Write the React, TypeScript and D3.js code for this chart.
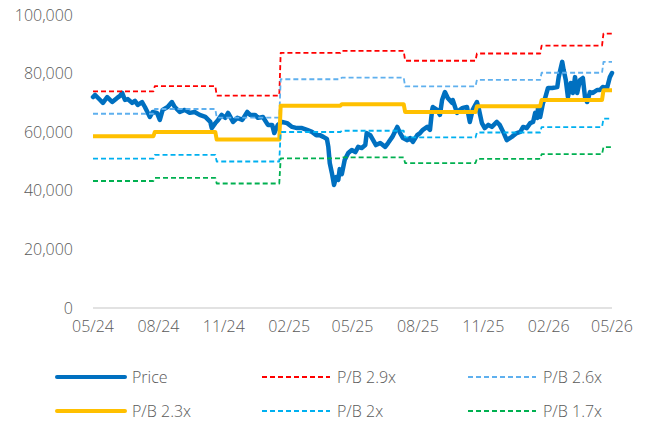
import React from "react";
import * as d3 from "d3";

// Share price (date, value)
const priceData: [string, number][] = [
  ["2024-05-01", 72000], ["2024-05-04", 72700], ["2024-05-11", 71000], ["2024-05-15", 70000],
  ["2024-05-21", 72000], ["2024-05-28", 70300], ["2024-06-04", 71700], ["2024-06-08", 72400],
  ["2024-06-11", 73400], ["2024-06-15", 71000], ["2024-06-19", 71300], ["2024-06-25", 70000],
  ["2024-06-29", 70700], ["2024-07-03", 69300], ["2024-07-09", 70300], ["2024-07-13", 68600],
  ["2024-07-20", 65200], ["2024-07-24", 66900], ["2024-07-30", 66600], ["2024-08-03", 64200],
  ["2024-08-07", 67600], ["2024-08-14", 68600], ["2024-08-20", 70300], ["2024-08-24", 68600],
  ["2024-08-31", 66900], ["2024-09-07", 67600], ["2024-09-14", 66600], ["2024-09-21", 66900],
  ["2024-09-28", 65900], ["2024-10-06", 65200], ["2024-10-13", 63500], ["2024-10-15", 61400],
  ["2024-10-20", 63100], ["2024-10-24", 64200], ["2024-10-29", 65900], ["2024-11-03", 64900],
  ["2024-11-07", 66600], ["2024-11-14", 63500], ["2024-11-20", 64900], ["2024-11-27", 64200],
  ["2024-12-04", 66900], ["2024-12-08", 65900], ["2024-12-15", 65900], ["2024-12-19", 64900],
  ["2024-12-26", 65200], ["2025-01-02", 62500], ["2025-01-08", 62500], ["2025-01-11", 59700],
  ["2025-01-16", 62500], ["2025-01-22", 63500], ["2025-01-29", 63100], ["2025-02-05", 61800],
  ["2025-02-12", 61400], ["2025-02-19", 61400], ["2025-02-26", 60800], ["2025-03-05", 60100],
  ["2025-03-11", 59000], ["2025-03-16", 59000], ["2025-03-21", 58400], ["2025-03-26", 57700],
  ["2025-03-28", 55000], ["2025-03-30", 49500], ["2025-04-02", 46100], ["2025-04-05", 42000],
  ["2025-04-08", 44700], ["2025-04-11", 43700], ["2025-04-13", 47400], ["2025-04-16", 45700],
  ["2025-04-20", 50500], ["2025-04-25", 52900], ["2025-04-30", 53900], ["2025-05-05", 53200],
  ["2025-05-09", 55000], ["2025-05-14", 54600], ["2025-05-19", 55600], ["2025-05-21", 59700],
  ["2025-05-26", 59000], ["2025-05-30", 57300], ["2025-06-03", 55600], ["2025-06-09", 56300],
  ["2025-06-16", 55000], ["2025-06-20", 56300], ["2025-06-26", 58400], ["2025-07-03", 61800],
  ["2025-07-07", 59700], ["2025-07-11", 58000], ["2025-07-17", 57300], ["2025-07-21", 58000],
  ["2025-07-25", 56700], ["2025-07-31", 59000], ["2025-08-04", 59700], ["2025-08-08", 60800],
  ["2025-08-14", 61800], ["2025-08-18", 60800], ["2025-08-21", 67600], ["2025-08-22", 68600],
  ["2025-08-28", 67600], ["2025-09-01", 65900], ["2025-09-04", 71000], ["2025-09-08", 73700],
  ["2025-09-12", 71700], ["2025-09-18", 70000], ["2025-09-19", 71000], ["2025-09-25", 66600],
  ["2025-09-29", 67600], ["2025-10-03", 68300], ["2025-10-09", 68600], ["2025-10-13", 63500],
  ["2025-10-17", 67600], ["2025-10-23", 70300], ["2025-10-26", 67600], ["2025-10-30", 63100],
  ["2025-11-03", 61400], ["2025-11-08", 62500], ["2025-11-13", 61800], ["2025-11-20", 63500],
  ["2025-11-24", 62500], ["2025-11-29", 60100], ["2025-12-04", 57300], ["2025-12-11", 58400],
  ["2025-12-18", 59700], ["2025-12-23", 60100], ["2025-12-27", 61800], ["2026-01-01", 61400],
  ["2026-01-06", 63100], ["2026-01-10", 63500], ["2026-01-13", 66600], ["2026-01-16", 64900],
  ["2026-01-17", 68600], ["2026-01-20", 65200], ["2026-01-24", 70000], ["2026-01-27", 71700],
  ["2026-01-31", 75100], ["2026-02-06", 75100], ["2026-02-13", 75400], ["2026-02-15", 78800],
  ["2026-02-20", 84000], ["2026-02-22", 81200], ["2026-02-25", 77800], ["2026-02-28", 72000],
  ["2026-03-04", 76800], ["2026-03-07", 73400], ["2026-03-10", 78800], ["2026-03-13", 73400],
  ["2026-03-17", 77800], ["2026-03-21", 78500], ["2026-03-24", 72000], ["2026-03-27", 70300],
  ["2026-03-31", 73700], ["2026-04-04", 73400], ["2026-04-10", 74400], ["2026-04-14", 74400],
  ["2026-04-18", 75400], ["2026-04-24", 75100], ["2026-04-28", 78800], ["2026-05-01", 80200],
];

// Book value per share, stepped (start date, value)
const bvpsSteps: [string, number][] = [
  ["2024-05-01", 25500],
  ["2024-07-27", 26120],
  ["2024-10-22", 25000],
  ["2025-01-20", 30030],
  ["2025-04-16", 30250],
  ["2025-07-14", 29100],
  ["2025-10-23", 29950],
  ["2026-01-22", 30880],
  ["2026-04-19", 32300],
];
const lastDate = "2026-05-01";

const bandNames = ["P/B 2.9x", "P/B 2.6x", "P/B 2.3x", "P/B 2x", "P/B 1.7x"];
const bandMultiples = [2.9, 2.6, 2.3, 2.0, 1.7];
const bandColors = ["#ff0000", "#5fb0ee", "#ffc000", "#00b0f0", "#00b050"];
const bandSolid = [false, false, true, false, false];

const xTickDates = [
  "2024-05-01", "2024-08-01", "2024-11-01", "2025-02-01", "2025-05-01",
  "2025-08-01", "2025-11-01", "2026-02-01", "2026-05-01",
];
const yTickValues = [0, 20000, 40000, 60000, 80000, 100000];

const parse = d3.timeParse("%Y-%m-%d");

export default function App() {
  const W = 646;
  const H = 427;
  const x = d3.scaleTime().domain([parse("2024-05-01")!, parse("2026-05-01")!]).range([93, 612]);
  const y = d3.scaleLinear().domain([0, 100000]).range([308, 15]);

  const line = d3
    .line<[Date, number]>()
    .x((d) => x(d[0]))
    .y((d) => y(d[1]));

  const price: [Date, number][] = priceData.map(([d, v]) => [parse(d)!, v]);

  const bandPoints = (m: number): [Date, number][] => {
    const pts: [Date, number][] = [];
    bvpsSteps.forEach(([d, v], i) => {
      const start = parse(d)!;
      const end =
        i < bvpsSteps.length - 1
          ? d3.timeDay.offset(parse(bvpsSteps[i + 1][0])!, -2)
          : parse(lastDate)!;
      pts.push([start, v * m]);
      pts.push([end, v * m]);
    });
    return pts;
  };

  const fmtY = d3.format(",");
  const fmtX = d3.timeFormat("%m/%y");
  const font = "'Open Sans', sans-serif";
  const textColor = "#5a5a5a";
  const weight = 300;

  const legendItems = [
    { name: "Price", color: "#0070c0", solid: true },
    ...bandNames.map((n, i) => ({ name: n, color: bandColors[i], solid: bandSolid[i] })),
  ];
  const legendCols = [57, 262, 468];
  const legendRows = [377, 411];

  return (
    <svg
      width={W}
      height={H}
      style={{ position: "absolute", left: 0, top: 0, background: "#fff" }}
      fontFamily={font}
      fontWeight={weight}
    >
      <line x1={93} x2={612} y1={y(0)} y2={y(0)} stroke="#d9d9d9" strokeWidth={1.5} />
      {yTickValues.map((v) => (
        <text
          key={v}
          x={73}
          y={y(v)}
          dy="0.35em"
          textAnchor="end"
          fontSize={16}
          fill={textColor}
        >
          {fmtY(v)}
        </text>
      ))}
      {xTickDates.map((d) => (
        <text
          key={d}
          x={x(parse(d)!)}
          y={326}
          dy="0.35em"
          textAnchor="middle"
          fontSize={16}
          fill={textColor}
        >
          {fmtX(parse(d)!)}
        </text>
      ))}
      <path
        d={line(price) ?? ""}
        fill="none"
        stroke="#0070c0"
        strokeWidth={4.5}
        strokeLinejoin="round"
        strokeLinecap="round"
      />
      {bandMultiples.map((m, i) => (
        <path
          key={bandNames[i]}
          d={line(bandPoints(m)) ?? ""}
          fill="none"
          stroke={bandColors[i]}
          strokeWidth={bandSolid[i] ? 4 : 1.8}
          strokeDasharray={bandSolid[i] ? undefined : "5,3"}
          strokeLinejoin="round"
        />
      ))}
      {legendItems.map((it, i) => {
        const cx = legendCols[i % 3];
        const cy = legendRows[Math.floor(i / 3)];
        return (
          <g key={it.name}>
            <line
              x1={cx}
              x2={cx + 68}
              y1={cy}
              y2={cy}
              stroke={it.color}
              strokeWidth={it.solid ? 4 : 1.8}
              strokeDasharray={it.solid ? undefined : "5,3"}
              strokeLinecap={it.solid ? "round" : "butt"}
            />
            <text x={cx + 75} y={cy} dy="0.35em" fontSize={16} fill={textColor}>
              {it.name}
            </text>
          </g>
        );
      })}
    </svg>
  );
}
